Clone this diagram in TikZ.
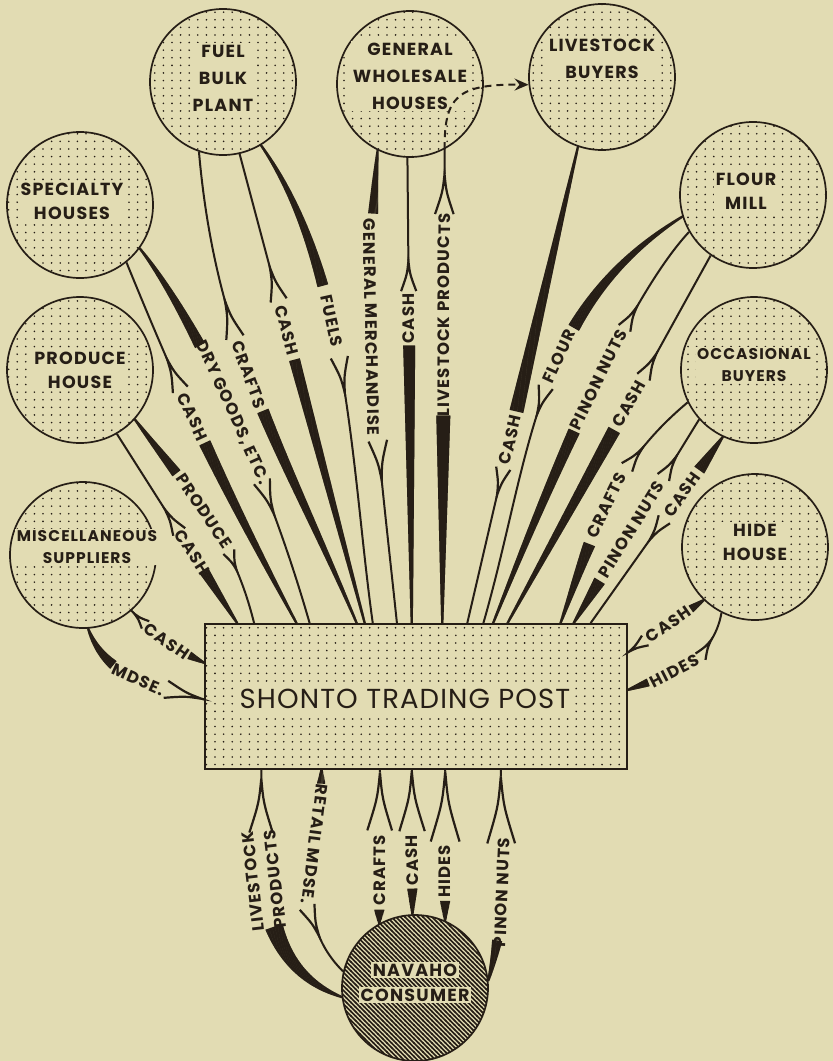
\documentclass[tikz,border=0pt]{standalone}
\usepackage{fontspec}
\newfontfamily\tagfont{Poppins}[LetterSpace=7]
\newfontfamily\postfont{Poppins}[LetterSpace=4]
\usetikzlibrary{calc, patterns, decorations.markings, arrows.meta}

\definecolor{paper}{RGB}{226,220,179}
\definecolor{ink}{RGB}{38,30,22}

\pgfdeclarepatternformonly{stipple}{\pgfqpoint{-1pt}{-1pt}}{\pgfqpoint{1pt}{1pt}}{\pgfqpoint{8.6pt}{7.6pt}}{%
  \pgfpathcircle{\pgfpointorigin}{0.9pt}\pgfusepath{fill}}
\pgfdeclarepatternformonly{hatch}{\pgfqpoint{-1pt}{-1pt}}{\pgfqpoint{5.5pt}{5.5pt}}{\pgfqpoint{4.5pt}{4.5pt}}{%
  \pgfsetlinewidth{1.6pt}\pgfpathmoveto{\pgfqpoint{-0.5pt}{5pt}}\pgfpathlineto{\pgfqpoint{5pt}{-0.5pt}}\pgfusepath{stroke}}

\tikzset{
  hub/.style={circle, draw=ink, line width=1.7pt, minimum size=146pt, inner sep=0pt,
    pattern=stipple, pattern color=ink},
  hubtext/.style={fill=paper, inner sep=1.5pt, text=ink, align=center,
    font=\tagfont\bfseries\fontsize{17.5}{24}\selectfont},
  tall/.style={font=\tagfont\bfseries\fontsize{17.5}{27}\selectfont},
  narrow/.style={font=\tagfont\bfseries\fontsize{15.5}{22}\selectfont},
  flab/.style={text=ink, inner sep=0pt, align=center,
    font=\tagfont\bfseries\fontsize{16.5}{22}\selectfont},
  forkarm/.style={draw=ink, line width=2.2pt},
  fturn/.store in=\flowturn, fturn=0,
  % #1 wedge length, #2 half width, #3 fork tip, #4 fork length, #5 text
  flow/.style n args={5}{
    postaction={decorate, decoration={markings,
      mark=between positions 0pt and #1pt step 1pt with {%
        \pgfmathsetmacro\halfw{1.1+(#2-1.1)*(\pgfkeysvalueof{/pgf/decoration/mark info/sequence number}-1)/#1}%
        \fill[ink] (-0.7pt,-\halfw pt) rectangle (0.7pt,\halfw pt);},
      mark=at position (#1+#3-#4)/2*1pt with {%
        \pgfgettransformentries{\ta}{\tb}{\tc}{\td}{\tx}{\ty}%
        \pgfmathsetmacro\tilt{\ta<-0.05 ? 180 : 0}%
        \node[flab, transform shape, rotate=\tilt+\flowturn] {#5};},
      mark=at position #3pt with {%
        \pgfmathsetmacro\spread{2.5+0.17*#4}%
        \draw[forkarm] (-#4pt,\spread pt) .. controls (-0.45*#4pt,0.2*\spread pt) .. (0pt,0pt)
          .. controls (-0.45*#4pt,-0.2*\spread pt) .. (-#4pt,-\spread pt);}}},
    postaction={draw=ink, line width=2pt, dash pattern=on 0pt off #3pt on 3000pt off 1pt}}
}

\begin{document}
\begin{tikzpicture}[x=1pt, y=-1pt]
  \path[use as bounding box, fill=paper] (0,0) rectangle (833,1061);

  \node[hub, label={[hubtext, tall, yshift=4pt]center:FUEL\\BULK\\PLANT}] (fuel) at (223,82) {};
  \node[hub, label={[hubtext, tall, yshift=8pt]center:GENERAL\\WHOLESALE\\HOUSES}] (whs) at (410,84) {};
  \node[hub, label={[hubtext, tall, yshift=18pt]center:LIVESTOCK\\BUYERS}] (lvb) at (602,77) {};
  \node[hub, label={[hubtext, xshift=-8pt, yshift=4pt]center:SPECIALTY\\HOUSES}] (spec) at (80,205) {};
  \node[hub, label={[hubtext, xshift=-7pt, yshift=4pt]center:FLOUR\\MILL}] (flour) at (753,195) {};
  \node[hub, label={[hubtext]center:PRODUCE\\HOUSE}] (prod) at (80,370) {};
  \node[hub, label={[hubtext, narrow, xshift=4pt, yshift=8pt]center:MISCELLANEOUS\\SUPPLIERS}] (misc) at (83,555) {};
  \node[hub, label={[hubtext, narrow, yshift=5pt]center:OCCASIONAL\\BUYERS}] (occ) at (754,370) {};
  \node[hub, label={[hubtext, yshift=5pt]center:HIDE\\HOUSE}] (hide) at (755,547) {};
  \node[hub, pattern=hatch, label={[hubtext, yshift=18pt]center:NAVAHO},
    label={[hubtext, yshift=-7pt]center:CONSUMER}] (nav) at (415,988) {};

  \node[draw=ink, line width=1.8pt, minimum width=422pt, minimum height=145pt, inner sep=0pt,
    pattern=stipple, pattern color=ink] (post) at (416,696.5) {};
  \node[fill=paper, inner sep=4pt, text=ink, font=\postfont\fontsize{27.5}{30}\selectfont]
    (postname) at (405,699) {SHONTO TRADING POST};

  \foreach \k/\f in {1/0.078, 2/0.118, 3/0.218, 4/0.249, 5/0.360, 6/0.379, 7/0.398, 8/0.455,
      9/0.490, 10/0.562, 11/0.621, 12/0.659, 13/0.682, 14/0.716, 15/0.841, 16/0.872, 17/0.912}
    \coordinate (t\k) at ($(post.north west)!\f!(post.north east)$);
  \foreach \k/\f in {1/0.135, 2/0.277, 3/0.415, 4/0.49, 5/0.569, 6/0.70}
    \coordinate (b\k) at ($(post.south west)!\f!(post.south east)$);
  \coordinate (l1) at ($(post.north west)!0.27!(post.south west)$);
  \coordinate (l2) at ($(post.north west)!0.52!(post.south west)$);
  \coordinate (r1) at ($(post.north east)!0.2!(post.south east)$);
  \coordinate (r2) at ($(post.north east)!0.455!(post.south east)$);

  \path[flow={44}{5}{140}{37}{MDSE.}] (misc.-86) to[out=-70, in=165] (l2);
  \path[flow={16}{4}{86}{16}{CASH}] (l1) to[bend left=10] (misc.-49);
  \path[flow={60}{5}{135}{27}{CASH}] (t1) to (prod.-60);
  \path[flow={67}{5}{182}{20}{PRODUCE}] (prod.-42) to[out=-53, in=104] (t2);
  \path[flow={200}{6}{292}{33}{CASH}] (t3) to[bend left=3] (spec.-51);
  \path[flow={113}{5.5}{298}{35}{DRY GOODS, ETC.}] (spec.-36) .. controls (185,305) and (260,450) .. (t4);
  \path[flow={229}{6}{346}{38}{CRAFTS}] (t5) to[out=113, in=-85] (fuel.-109);
  \path[flow={272}{5.5}{368}{34}{CASH}] (t6) to (fuel.-77);
  \path[flow={152}{5.5}{262}{36}{FUELS}] (fuel.-59) to[out=-55, in=98, looseness=0.8] (t7);

  \path[flow={62}{5}{330}{40}{GENERAL MERCHANDISE}] (whs.-116) to[out=-95, in=96] (t8);
  \path[flow={277}{6}{362}{30}{CASH}] (t9) to (whs.-92);
  \path[flow={207}{7}{449}{40}{LIVESTOCK PRODUCTS}] (t10) to (whs.-62);
  \path[flow={271}{7}{358}{28}{CASH}] (lvb.-109) to (t11);
  \draw[ink, line width=2pt, dash pattern=on 7pt off 5pt, -{Stealth[length=14pt, width=12pt, inset=5pt]}]
    (whs.-62) .. controls (444,96) and (458,84) .. (lvb.186);

  \path[flow={155}{6}{250}{29}{FLOUR}] (flour.-163) to[out=-148, in=74] (t12);
  \path[flow={206}{6}{346}{25}{PINON NUTS}] (t13) to[out=68, in=-133, looseness=0.6] (flour.-150);
  \path[flow={220}{6.5}{308}{27}{CASH}] (t14) to (flour.-125);
  \path[flow={83}{6}{194}{25}{CRAFTS}] (t15) to[out=70, in=-140] (occ.-154);
  \path[flow={49}{6}{196}{25}{PINON NUTS}] (t16) to (occ.-138);
  \path[flow={40}{6}{127}{26}{CASH}] (occ.-115) to (t17);
  \path[flow={15}{4}{91}{20}{CASH}] (hide.-134) to (r1);
  \path[flow={21}{4}{99}{20}{HIDES}] (r2) to[out=20, in=-100] (hide.-117);

  \path[flow={100}{9}{250}{54}{LIVESTOCK\\PRODUCTS}, fturn=180] (nav.187) to[out=160, in=-90] (b1);
  \path[flow={13}{4}{168}{32}{RETAIL MDSE.}, fturn=180] (b2) to[out=-90, in=135] (nav.167);
  \path[flow={13}{5}{151}{58}{CRAFTS}] (nav.119) to (b3);
  \path[flow={25}{5}{143}{60}{CASH}] (nav.92) to (b4);
  \path[flow={19}{5}{149}{70}{HIDES}] (nav.66) to (b5);
  \path[flow={40}{5}{205}{67}{PINON NUTS}] (nav.6) to[out=75, in=-90] (b6);
\end{tikzpicture}
\end{document}
